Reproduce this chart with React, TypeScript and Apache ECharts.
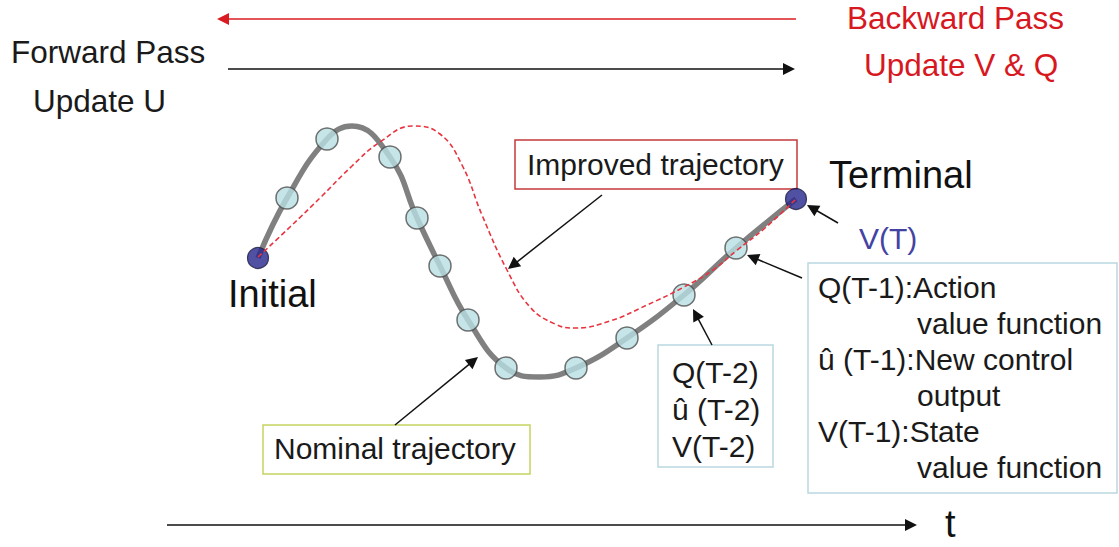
import React, { useEffect, useRef } from "react";
import * as echarts from "echarts";

const W = 1119;
const H = 547;
const FONT = "'Liberation Sans', Arial, Helvetica, sans-serif";

// Nominal trajectory (gray thick curve), guide points in chart units
const nominalPath: number[][] = [
  [258, 258], [287, 198], [327, 139], [352, 126], [390, 157], [417, 218],
  [440, 266], [468, 320], [506, 368], [540, 377], [576, 368], [627, 338],
  [684, 295], [736, 248], [796, 199],
];

// Intermediate state nodes on the nominal trajectory
const nodePoints: number[][] = [
  [287, 198], [327, 139], [390, 157], [417, 218], [440, 266], [468, 320],
  [506, 368], [576, 368], [627, 338], [684, 295], [736, 248],
];

// Initial and terminal states
const endPoints: number[][] = [[258, 258], [796, 199]];

// Improved trajectory (red dashed curve)
const improvedPath: number[][] = [
  [258, 257], [290, 227], [322, 196], [352, 166], [380, 142], [413, 126],
  [440, 134], [462, 165], [482, 215], [507, 270], [530, 307], [555, 324],
  [575, 328], [610, 321], [647, 305], [684, 287], [713, 270], [736, 251],
  [765, 228], [796, 199],
];

// Arrows: [fromX, fromY, toX, toY]
const blackArrows: number[][] = [
  [228, 69, 795, 69],
  [167, 525, 917, 525],
  [602, 195, 508, 269],
  [395, 425, 478, 357],
  [838, 223, 807, 205],
  [802, 278, 747, 255],
  [712, 345, 693, 309],
];
const redArrows: number[][] = [[796, 19, 217, 19]];

// Text labels: [text, x, y, size, color]
const labels: (string | number)[][] = [
  ["Forward Pass", 11, 52, 31.5, "#1a1a1a"],
  ["Update U", 33, 101, 31.5, "#1a1a1a"],
  ["Backward Pass", 847, 18, 31.5, "#d7181f"],
  ["Update V & Q", 864, 65, 31.5, "#d7181f"],
  ["Initial", 228, 294, 38, "#111111"],
  ["Terminal", 829, 175, 38, "#111111"],
  ["V(T)", 859, 238, 30, "#4343a3"],
  ["Improved trajectory", 527, 164, 30, "#1a1a1a"],
  ["Nominal trajectory", 274, 448, 30, "#1a1a1a"],
  ["Q(T-2)", 672, 372, 30, "#1a1a1a"],
  ["\u00fb (T-2)", 672, 409, 30, "#1a1a1a"],
  ["V(T-2)", 672, 446, 30, "#1a1a1a"],
  ["Q(T-1):Action", 818, 287, 30, "#1a1a1a"],
  ["value function", 917, 323, 30, "#1a1a1a"],
  ["\u00fb (T-1):New control", 818, 359, 30, "#1a1a1a"],
  ["output", 917, 395, 30, "#1a1a1a"],
  ["V(T-1):State", 818, 431, 30, "#1a1a1a"],
  ["value function", 917, 467, 30, "#1a1a1a"],
  ["t", 945, 524, 38, "#111111"],
];

// Boxes: [x, y, w, h, stroke]
const boxes: (number | string)[][] = [
  [515, 140, 282, 49, "#c43a3d"],
  [263, 425, 267, 49, "#c5d45f"],
  [658, 345, 115, 122, "#b9d8df"],
  [808, 263, 309, 230, "#b9d8df"],
];

const HEAD_LEN = 12;
const HEAD_W = 8;

function arrowData(list: number[][]) {
  return list.map(([x1, y1, x2, y2]) => {
    const dx = x2 - x1;
    const dy = y2 - y1;
    const len = Math.hypot(dx, dy);
    const k = (len - HEAD_LEN / 2) / len;
    return { coords: [[x1, y1], [x1 + dx * k, y1 + dy * k]] };
  });
}

export default function App() {
  const ref = useRef<HTMLDivElement>(null);

  useEffect(() => {
    if (!ref.current) return;
    const chart = echarts.init(ref.current, undefined, { renderer: "svg" });

    const graphic: any[] = [];
    boxes.forEach(([x, y, w, h, stroke]) => {
      graphic.push({
        type: "rect",
        shape: { x, y, width: w, height: h },
        style: { fill: "#ffffff", stroke, lineWidth: 1.5 },
        z: 1,
      });
    });
    labels.forEach(([text, x, y, size, color]) => {
      graphic.push({
        type: "text",
        x,
        y,
        style: {
          text,
          fontSize: size,
          fontFamily: FONT,
          fill: color,
          textAlign: "left",
          textVerticalAlign: "middle",
          align: "left",
          verticalAlign: "middle",
        },
        z: 20,
      });
    });

    chart.setOption({
      animation: false,
      backgroundColor: "#ffffff",
      grid: { left: 0, right: 0, top: 0, bottom: 0 },
      xAxis: { type: "value", min: 0, max: W, show: false },
      yAxis: { type: "value", min: 0, max: H, inverse: true, show: false },
      graphic,
      series: [
        {
          type: "line",
          data: nominalPath,
          smooth: 0.45,
          symbol: "none",
          lineStyle: { color: "#808080", width: 5.5 },
          z: 3,
        },
        {
          type: "scatter",
          data: nodePoints,
          symbolSize: 22,
          itemStyle: { color: "#b8dfe2", borderColor: "#4d4d4d", borderWidth: 1.5 },
          z: 4,
        },
        {
          type: "scatter",
          data: endPoints,
          symbolSize: 21,
          itemStyle: { color: "#25258c", borderColor: "#1c1c40", borderWidth: 1.2 },
          z: 4,
        },
        {
          type: "line",
          data: improvedPath,
          smooth: 0.45,
          symbol: "none",
          lineStyle: { color: "#e8343e", width: 1.6, type: [5, 3] },
          z: 5,
        },
        {
          type: "lines",
          coordinateSystem: "cartesian2d",
          data: arrowData(blackArrows),
          symbol: ["none", "triangle"],
          symbolSize: [HEAD_W, HEAD_LEN],
          lineStyle: { color: "#111111", width: 1.5, opacity: 1 },
          z: 6,
        },
        {
          type: "lines",
          coordinateSystem: "cartesian2d",
          data: arrowData(redArrows),
          symbol: ["none", "triangle"],
          symbolSize: [HEAD_W, HEAD_LEN],
          lineStyle: { color: "#d91c22", width: 1.5, opacity: 1 },
          z: 6,
        },
      ],
    });

    return () => chart.dispose();
  }, []);

  return (
    <div
      ref={ref}
      style={{ position: "fixed", left: 0, top: 0, width: W, height: H, background: "#fff" }}
    />
  );
}
